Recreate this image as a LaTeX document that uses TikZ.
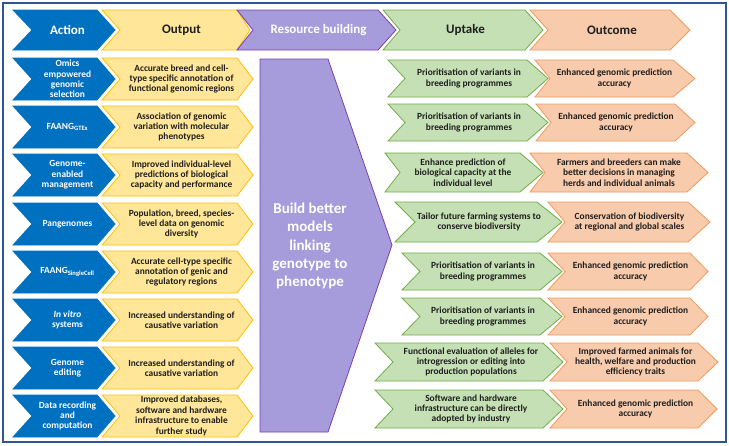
\documentclass[tikz,border=0pt]{standalone}
\usepackage{fontspec}
\setmainfont{Carlito}
\definecolor{frameblue}{HTML}{2F5597}
\definecolor{actblue}{HTML}{0070C0}
\definecolor{yelfill}{HTML}{FFE699}
\definecolor{yeldraw}{HTML}{FFC000}
\definecolor{purfill}{HTML}{A69CDB}
\definecolor{purdraw}{HTML}{7A3FB0}
\definecolor{grnfill}{HTML}{C5E0B4}
\definecolor{grndraw}{HTML}{70AD47}
\definecolor{orgfill}{HTML}{F8CBAD}
\definecolor{orgdraw}{HTML}{F19A5C}
\definecolor{txtdark}{HTML}{1E1E1E}
\tikzset{
  bodyfont/.style={font=\fontsize{9.4}{10.4}\selectfont\bfseries},
  actchev/.style={fill=actblue, draw=actblue, line width=0.8pt},
  actchev text/.style={bodyfont, text=white, align=center, inner sep=0pt},
  outchev/.style={fill=yelfill, draw=yeldraw, line width=0.8pt},
  outchev text/.style={bodyfont, text=txtdark, align=center, inner sep=0pt},
  purchev/.style={fill=purfill, draw=purdraw, line width=0.8pt},
  purchev text/.style={bodyfont, text=white, align=center, inner sep=0pt},
  upchev/.style={fill=grnfill, draw=grndraw, line width=0.8pt},
  upchev text/.style={bodyfont, text=txtdark, align=center, inner sep=0pt},
  occhev/.style={fill=orgfill, draw=orgdraw, line width=0.8pt},
  occhev text/.style={bodyfont, text=txtdark, align=center, inner sep=0pt},
}
% #1 style, #2 L, #3 notch, #4 right-top, #5 point, #6 top, #7 bottom, #8 name, #9 text
\newcommand{\chv}[9]{%
  \draw[#1] (#2,#6) -- (#4,#6) -- (#5,{(#6+#7)/2}) -- (#4,#7) -- (#2,#7) -- (#3,{(#6+#7)/2}) -- cycle;
  \node[#1 text] (#8) at ({(#3+#4)/2+3},{(#6+#7)/2}) {#9};
}
\newcommand{\hd}{\fontsize{13}{15}\selectfont}
\begin{document}
\begin{tikzpicture}[x=1pt,y=-1pt]
\useasboundingbox (0,0) rectangle (729,445);
\fill[white] (0,0) rectangle (729,445);
\draw[frameblue, line width=2.5pt] (3,3) rectangle (726,442);

% header row
\chv{actchev}{13}{32}{97}{115}{10}{50}{h1}{\hd Action}
\chv{outchev}{102}{120}{237}{250}{10}{50}{h2}{\hd Output}
\chv{purchev}{237}{253}{378}{396}{10}{50}{h3}{\hd Resource building}
\chv{upchev}{383}{400}{525}{543}{10}{50}{h4}{\hd Uptake}
\chv{occhev}{530}{548}{670}{690}{10}{50}{h5}{\hd Outcome}

% action column
\chv{actchev}{13}{32}{97}{115}{58}{100}{a1}{Omics\\empowered\\genomic\\selection}
\chv{actchev}{13}{32}{97}{115}{106}{148}{a2}{FAANG\textsubscript{GTEx}}
\chv{actchev}{13}{32}{97}{115}{154}{196}{a3}{Genome-\\enabled\\management}
\chv{actchev}{13}{32}{97}{115}{203}{245}{a4}{Pangenomes}
\chv{actchev}{13}{32}{97}{115}{251}{293}{a5}{FAANG\textsubscript{SingleCell}}
\chv{actchev}{13}{32}{97}{115}{299}{341}{a6}{\textit{In vitro}\\systems}
\chv{actchev}{13}{32}{97}{115}{347}{389}{a7}{Genome\\editing}
\chv{actchev}{13}{32}{97}{115}{395}{437}{a8}{Data recording\\and\\computation}

% output column
\chv{outchev}{102}{120}{237}{253}{58}{100}{o1}{Accurate breed and cell-\\type specific annotation of\\functional genomic regions}
\chv{outchev}{102}{120}{237}{253}{106}{148}{o2}{Association of genomic\\variation with molecular\\phenotypes}
\chv{outchev}{102}{120}{237}{253}{154}{196}{o3}{Improved individual-level\\predictions of biological\\capacity and performance}
\chv{outchev}{102}{120}{237}{253}{203}{245}{o4}{Population, breed, species-\\level data on genomic\\diversity}
\chv{outchev}{102}{120}{237}{253}{251}{293}{o5}{Accurate cell-type specific\\annotation of genic and\\regulatory regions}
\chv{outchev}{102}{120}{237}{253}{299}{341}{o6}{Increased understanding of\\causative variation}
\chv{outchev}{102}{120}{237}{253}{347}{389}{o7}{Increased understanding of\\causative variation}
\chv{outchev}{102}{120}{237}{253}{395}{437}{o8}{Improved databases,\\software and hardware\\infrastructure to enable\\further study}

% resource building
\draw[purchev] (260,59) -- (328,59) -- (392,245) -- (328,432) -- (260,432) -- cycle;
\node[purchev text, font=\fontsize{15}{18.3}\selectfont\bfseries] (build) at (310,246) {Build better\\models\\linking\\genotype to\\phenotype};

% uptake column
\chv{upchev}{388}{405}{527}{548}{60}{97}{u1}{Prioritisation of variants in\\breeding programmes}
\chv{upchev}{388}{405}{527}{548}{104}{141}{u2}{Prioritisation of variants in\\breeding programmes}
\chv{upchev}{385}{400}{520}{543}{153}{192}{u3}{Enhance prediction of\\biological capacity at the\\individual level}
\chv{upchev}{395}{415}{537}{562}{202}{242}{u4}{Tailor future farming systems to\\conserve biodiversity}
\chv{upchev}{402}{420}{540}{562}{253}{290}{u5}{Prioritisation of variants in\\breeding programmes}
\chv{upchev}{402}{420}{540}{562}{298}{335}{u6}{Prioritisation of variants in\\breeding programmes}
\chv{upchev}{375}{393}{543}{563}{343}{381}{u7}{Functional evaluation of alleles for\\introgression or editing into\\production populations}
\chv{upchev}{375}{393}{543}{563}{390}{428}{u8}{Software and hardware\\infrastructure can be directly\\adopted by industry}

% outcome column
\chv{occhev}{535}{550}{673}{695}{60}{97}{c1}{Enhanced genomic prediction\\accuracy}
\chv{occhev}{536}{551}{675}{695}{104}{141}{c2}{Enhanced genomic prediction\\accuracy}
\chv{occhev}{530}{545}{687}{708}{153}{192}{c3}{Farmers and breeders can make\\better decisions in managing\\herds and individual animals}
\chv{occhev}{548}{565}{688}{710}{202}{242}{c4}{Conservation of biodiversity\\at regional and global scales}
\chv{occhev}{548}{565}{690}{708}{253}{290}{c5}{Enhanced genomic prediction\\accuracy}
\chv{occhev}{548}{565}{690}{708}{298}{335}{c6}{Enhanced genomic prediction\\accuracy}
\chv{occhev}{550}{567}{698}{718}{343}{381}{c7}{Improved farmed animals for\\health, welfare and production\\efficiency traits}
\chv{occhev}{550}{567}{698}{717}{390}{428}{c8}{Enhanced genomic prediction\\accuracy}
\end{tikzpicture}
\end{document}
